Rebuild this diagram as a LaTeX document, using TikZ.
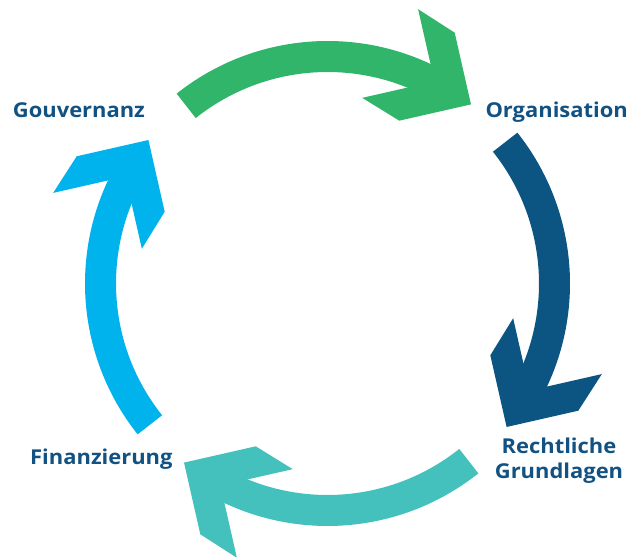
\documentclass[tikz,border=0pt]{standalone}
\usepackage{fontspec}
\setmainfont{Open Sans}[FakeStretch=1.07]
\usetikzlibrary{calc}
\definecolor{agreen}{HTML}{30B56A}
\definecolor{adark}{HTML}{0C5481}
\definecolor{ateal}{HTML}{44C1BD}
\definecolor{alight}{HTML}{00B3EC}
\definecolor{labelblue}{HTML}{125283}
\begin{document}
\begin{tikzpicture}[x=1pt,y=1pt,
  lbl/.style={font=\fontsize{20.5}{25}\selectfont\bfseries, text=labelblue, inner sep=0pt}]
\useasboundingbox (0,0) rectangle (628,556);
\coordinate (C) at (327.5,272.5);
\foreach \k/\col in {0/agreen,1/adark,2/ateal,3/alight}{
  \pgfmathsetmacro\ta{128.5-90*\k}
  \pgfmathsetmacro\te{58-90*\k}
  \pgfmathsetmacro\tt{51.3-90*\k}
  \pgfmathsetmacro\ax{-32.2-90*\k}
  \draw[\col, line width=31pt] ($(C)+(\ta:227)$) arc[start angle=\ta, end angle=\te, radius=227];
  \fill[\col, shift={($(C)+(\tt:229.5)$)}, rotate=\ax]
    (0,0) -- (-52,52) -- (-95.5,52.4) -- (-43.1,0) -- (-95.5,-52.4) -- (-52,-52) -- cycle;
}
\node[lbl, anchor=base west] (gouv) at (12.7,438.7) {Gouvernanz};
\node[lbl, anchor=base west] (orga) at (485.3,438.7) {Organisation};
\node[lbl, anchor=base, align=center] (recht) at (559,77.7) {Rechtliche\\Grundlagen};
\node[lbl, anchor=base west] (finanz) at (30,91) {Finanzierung};
\end{tikzpicture}
\end{document}
